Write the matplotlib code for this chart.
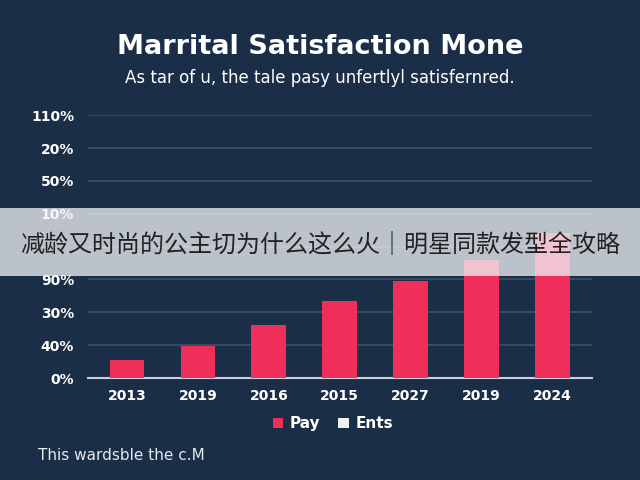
import matplotlib.pyplot as plt
from matplotlib.patches import Patch, Rectangle

# data
years = ["2013", "2019", "2016", "2015", "2027", "2019", "2024"]
pay = [5.5, 9.7, 16.0, 23.3, 29.4, 35.8, 44.0]
tick_pos = [0, 10, 20, 30, 40, 50, 60, 70, 80]
# the 5th label sits under the banner in the reference and can't be read
tick_labels = ["0%", "40%", "30%", "90%", "", "10%", "50%", "20%", "110%"]

BG = "#1b2e48"
BAR = "#ef2f5a"
GRID = "#3b4f69"

plt.rcParams["font.family"] = ["DejaVu Sans"]

fig = plt.figure(figsize=(6.4, 4.8), dpi=100, facecolor=BG)
ax = fig.add_axes([0.1375, 0.2125, 0.7875, 0.5475])
ax.set_facecolor(BG)

x = list(range(len(years)))
ax.bar(x, pay, width=0.49, color=BAR, zorder=3)

ax.set_xlim(-0.55, 6.56)
ax.set_ylim(0, 80)
ax.set_yticks(tick_pos)
ax.set_yticklabels(tick_labels)
ax.set_xticks(x)
ax.set_xticklabels(years)
ax.grid(axis="y", color=GRID, linewidth=1.3, zorder=0)
for s in ["top", "right", "left"]:
    ax.spines[s].set_visible(False)
ax.spines["bottom"].set_color("#c9d1dc")
ax.spines["bottom"].set_linewidth(1.5)
ax.tick_params(length=0, colors="white", labelsize=10)
ax.tick_params(axis="y", pad=10)
ax.tick_params(axis="x", pad=8)
for lbl in ax.get_xticklabels() + ax.get_yticklabels():
    lbl.set_fontweight("bold")
    lbl.set_color("white")

fig.text(0.5, 0.902, "Marrital Satisfaction Mone", ha="center", va="center",
         color="white", fontsize=19.5, fontweight="bold")
fig.text(0.5, 0.838, "As tar of u, the tale pasy unfertlyl satisfernred.",
         ha="center", va="center", color="white", fontsize=12)

handles = [Patch(facecolor=BAR, label="Pay"), Patch(facecolor="#f0f0f0", label="Ents")]
leg = fig.legend(handles=handles, loc="center", bbox_to_anchor=(0.52, 0.117), ncol=2,
                 frameon=False, handlelength=0.7, handleheight=0.7, handletextpad=0.4,
                 columnspacing=1.2, prop={"weight": "bold", "size": 11})
for t in leg.get_texts():
    t.set_color("white")

fig.text(0.059, 0.052, "This wardsble the c.M", ha="left", va="center",
         color="#e6e9ee", fontsize=11)

# light caption banner over the chart
fig.patches.append(Rectangle((0, 0.425), 1, 0.142, transform=fig.transFigure,
                             facecolor="#f2f5f7", alpha=0.75, zorder=10))
fig.text(0.5, 0.49, "减龄又时尚的公主切为什么这么火｜明星同款发型全攻略",
         ha="center", va="center", color="#222222", fontsize=17.3,
         family=["Noto Sans CJK SC", "DejaVu Sans"], zorder=11)

fig.savefig("out.png", dpi=100, facecolor=BG)
